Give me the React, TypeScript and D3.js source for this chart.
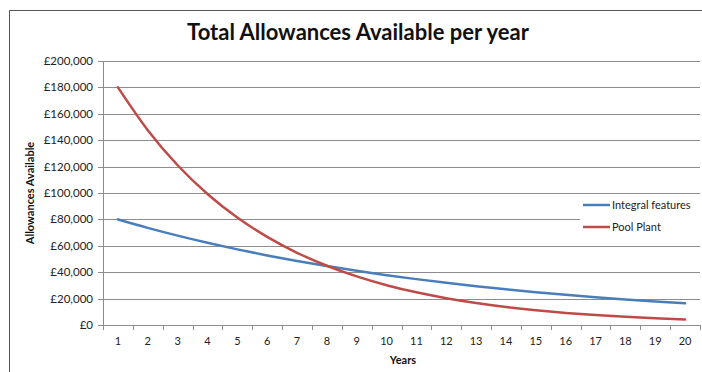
import React from "react";
import * as d3 from "d3";

const years = [1, 2, 3, 4, 5, 6, 7, 8, 9, 10, 11, 12, 13, 14, 15, 16, 17, 18, 19, 20];
const integralFeatures = [80000, 73600, 67712, 62295, 57311, 52727, 48508, 44628, 41058, 37773, 34751, 31971, 29413, 27060, 24896, 22904, 21072, 19386, 17835, 16408];
const poolPlant = [180000, 147600, 121032, 99246, 81382, 66733, 54721, 44871, 36794, 30171, 24740, 20287, 16635, 13641, 11186, 9172, 7521, 6167, 5057, 4147];
const yTicks = [0, 20000, 40000, 60000, 80000, 100000, 120000, 140000, 160000, 180000, 200000];
const seriesNames = ["Integral features", "Pool Plant"];
const seriesColors = ["#4A7EBB", "#BE4B48"];

const W = 702;
const H = 372;
const plot = { left: 103, right: 700, top: 61, bottom: 325 };
const font = "Lato, 'Liberation Sans', sans-serif";

export default function App() {
  const x = d3
    .scaleBand<number>()
    .domain(years)
    .range([plot.left, plot.right]);
  const y = d3.scaleLinear().domain([0, 200000]).range([plot.bottom, plot.top]);
  const fmt = (v: number) => "£" + d3.format(",")(v);
  const line = d3
    .line<number>()
    .x((_, i) => (x(years[i]) as number) + x.bandwidth() / 2)
    .y((d) => y(d))
    .curve(d3.curveMonotoneX);
  const series = [integralFeatures, poolPlant];
  const boundaries = years.map((yr) => x(yr) as number).concat([plot.right]);

  return (
    <svg
      width={W}
      height={H}
      style={{ position: "absolute", left: 0, top: 0, background: "#fff" }}
      fontFamily={font}
    >
      <rect x={0} y={0} width={W} height={H} fill="#fff" />
      {/* chart border */}
      <path d={`M9.5,${H} V10.5 H${W}`} fill="none" stroke="#555" strokeWidth={1} />
      <text x={358} y={40} textAnchor="middle" fontSize={22} fontWeight="bold" fill="#111">
        Total Allowances Available per year
      </text>
      {/* gridlines */}
      {yTicks.map((t) => (
        <line
          key={"g" + t}
          x1={plot.left}
          x2={plot.right}
          y1={Math.round(y(t)) + 0.5}
          y2={Math.round(y(t)) + 0.5}
          stroke="#8c8c8c"
          strokeWidth={1}
        />
      ))}
      {/* y axis */}
      <line x1={plot.left + 0.5} x2={plot.left + 0.5} y1={plot.top} y2={plot.bottom} stroke="#8c8c8c" />
      {yTicks.map((t) => (
        <g key={"y" + t}>
          <line
            x1={plot.left - 5}
            x2={plot.left}
            y1={Math.round(y(t)) + 0.5}
            y2={Math.round(y(t)) + 0.5}
            stroke="#8c8c8c"
          />
          <text x={93} y={y(t) + 4} textAnchor="end" fontSize={11.5} fill="#222">
            {fmt(t)}
          </text>
        </g>
      ))}
      {/* x axis */}
      {boundaries.map((b, i) => (
        <line
          key={"xt" + i}
          x1={Math.round(b) + 0.5}
          x2={Math.round(b) + 0.5}
          y1={plot.bottom}
          y2={plot.bottom + 5}
          stroke="#8c8c8c"
        />
      ))}
      {years.map((yr) => (
        <text
          key={"xl" + yr}
          x={(x(yr) as number) + x.bandwidth() / 2}
          y={plot.bottom + 20}
          textAnchor="middle"
          fontSize={11}
          fill="#222"
        >
          {yr}
        </text>
      ))}
      <text x={403} y={364} textAnchor="middle" fontSize={11} fontWeight="bold" fill="#111">
        Years
      </text>
      <text
        transform={`translate(34,${(plot.top + plot.bottom) / 2}) rotate(-90)`}
        textAnchor="middle"
        fontSize={11}
        fontWeight="bold"
        fill="#111"
      >
        Allowances Available
      </text>
      {/* lines */}
      {series.map((s, i) => (
        <path
          key={"s" + i}
          d={line(s) as string}
          fill="none"
          stroke={seriesColors[i]}
          strokeWidth={2.5}
          strokeLinejoin="round"
          strokeLinecap="round"
        />
      ))}
      {/* legend */}
      <rect x={580} y={196} width={122} height={40} fill="#fff" />
      {seriesNames.map((n, i) => (
        <g key={"lg" + n}>
          <line
            x1={583}
            x2={610}
            y1={205 + i * 22}
            y2={205 + i * 22}
            stroke={seriesColors[i]}
            strokeWidth={2.5}
          />
          <text x={612} y={209 + i * 22} fontSize={11} fill="#222">
            {n}
          </text>
        </g>
      ))}
    </svg>
  );
}
